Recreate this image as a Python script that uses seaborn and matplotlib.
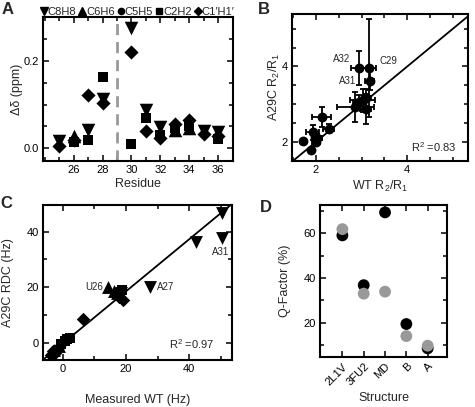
import numpy as np
import pandas as pd
import matplotlib
matplotlib.use('Agg')
import matplotlib.pyplot as plt
import seaborn as sns
from matplotlib.lines import Line2D
from matplotlib.ticker import MultipleLocator, FixedLocator

# Panel A: chemical shift differences per residue
c8h8_res = [25, 27, 28, 30, 31, 32, 35, 36]
c8h8_val = [0.016, 0.043, 0.114, 0.275, 0.087, 0.048, 0.040, 0.037]
c6h6_res = [26, 33, 34]
c6h6_val = [0.029, 0.043, 0.046]
c5h5_res = []
c5h5_val = []
c2h2_res = [26, 27, 28, 30, 31, 32, 33, 34, 36]
c2h2_val = [0.015, 0.019, 0.164, 0.009, 0.069, 0.030, 0.046, 0.052, 0.022]
c1h1_res = [25, 26, 27, 28, 30, 31, 32, 33, 34, 35, 36]
c1h1_val = [0.005, 0.020, 0.122, 0.103, 0.221, 0.039, 0.024, 0.055, 0.064, 0.033, 0.029]
a_ticks = [26, 28, 30, 32, 34, 36]

# Panel B: R2/R1 ratios with errors
b_wt = [2.94, 3.15, 3.18, 2.86, 3.02, 3.09, 2.95, 3.10, 2.12, 2.28, 1.93, 2.00, 2.03, 1.72, 1.89, 1.98]
b_a29c = [3.97, 3.95, 3.62, 2.93, 3.10, 2.88, 3.05, 3.15, 2.66, 2.35, 2.25, 2.00, 2.10, 2.03, 1.78, 2.12]
b_wt_err = [0.18, 0.17, 0.10, 0.40, 0.27, 0.12, 0.15, 0.10, 0.20, 0.12, 0.14, 0.08, 0.10, 0.0, 0.0, 0.05]
b_a29c_err = [0.45, 1.30, 0.25, 0.40, 0.30, 0.40, 0.20, 0.25, 0.26, 0.12, 0.20, 0.10, 0.10, 0.0, 0.0, 0.10]
b_r2 = 0.83

# Panel C: RDCs (Hz)
c_types = ['C8H8'] * 5 + ['C6H6'] * 5 + ['C2H2'] * 6 + ["C1'H1'"] * 8
c_wt = [50.4, 50.2, 42.0, 27.6, 18.3,
        14.4, 16.3, 17.3, -1.2, -2.6,
        18.6, 18.0, 2.3, 0.8, -0.5, 1.5,
        19.1, 17.8, 6.5, -2.4, -3.2, -1.5, 0.2, -3.8]
c_a29c = [46.6, 37.6, 36.2, 20.2, 18.0,
          20.0, 18.6, 17.8, -1.0, -2.5,
          19.0, 17.4, 1.6, 0.5, -0.6, 1.2,
          15.4, 16.5, 8.4, -3.8, -3.0, -2.0, 0.3, -4.5]
c_fit_slope = 0.94
c_fit_icpt = -0.3
c_r2 = 0.97

# Panel D: Q-factors
structures = ['2L1V', '3FU2', 'MD', 'B', 'A']
q_black = [59.1, 36.8, 69.4, 19.4, 8.5]
q_gray = [61.9, 33.0, 33.9, 14.0, 9.7]

sns.set_style('ticks')
plt.rcParams['font.family'] = ['Liberation Sans', 'DejaVu Sans']
plt.rcParams['mathtext.fontset'] = 'custom'
plt.rcParams['mathtext.rm'] = 'Liberation Sans'
plt.rcParams['mathtext.it'] = 'Liberation Sans:italic'
plt.rcParams['font.size'] = 8

W, H = 475, 407
fig = plt.figure(figsize=(W / 100, H / 100), dpi=100)
LAB = 9


def px_axes(l, t, r, b):
    return fig.add_axes([l / W, 1 - b / H, (r - l) / W, (b - t) / H])


def style(ax):
    for s in ax.spines.values():
        s.set_linewidth(1.5)
        s.set_color('black')
    ax.tick_params(which='both', direction='in', top=True, right=True,
                   width=1.1, labelsize=8, colors='black', pad=3)
    ax.tick_params(which='major', length=4)
    ax.tick_params(which='minor', length=3)


# ---- A
axA = px_axes(42.7, 17.3, 232.5, 161)
dfA = pd.concat([
    pd.DataFrame({'residue': c8h8_res, 'shift': c8h8_val, 'type': 'C8H8'}),
    pd.DataFrame({'residue': c6h6_res, 'shift': c6h6_val, 'type': 'C6H6'}),
    pd.DataFrame({'residue': c5h5_res, 'shift': c5h5_val, 'type': 'C5H5'}),
    pd.DataFrame({'residue': c2h2_res, 'shift': c2h2_val, 'type': 'C2H2'}),
    pd.DataFrame({'residue': c1h1_res, 'shift': c1h1_val, 'type': "C1'H1'"}),
], ignore_index=True)
mk = {'C8H8': 'v', 'C6H6': '^', 'C5H5': 'o', 'C2H2': 's', "C1'H1'": 'D'}
sizes = {'C8H8': 95, 'C6H6': 95, 'C5H5': 60, 'C2H2': 58, "C1'H1'": 52}
for t in ['C2H2', 'C8H8', 'C6H6', "C1'H1'"]:
    sub = dfA[dfA['type'] == t]
    sns.scatterplot(data=sub, x='residue', y='shift', marker=mk[t], s=sizes[t],
                    color='black', edgecolor='black', linewidth=0, ax=axA, legend=False)
axA.axvline(29, color='#999999', lw=2, ls=(0, (4, 2.5)))
axA.set_xlim(23.85, 37.0)
axA.set_ylim(-0.029, 0.30)
axA.xaxis.set_major_locator(FixedLocator(a_ticks))
axA.xaxis.set_minor_locator(MultipleLocator(1))
axA.yaxis.set_major_locator(MultipleLocator(0.2))
axA.yaxis.set_minor_locator(MultipleLocator(0.05))
axA.yaxis.set_major_formatter(matplotlib.ticker.FormatStrFormatter('%.1f'))
axA.set_xlabel('Residue', fontsize=LAB, labelpad=2)
axA.set_ylabel('Δδ (ppm)', fontsize=LAB, labelpad=0)
style(axA)
leg_names = ['C8H8', 'C6H6', 'C5H5', 'C2H2', "C1'H1'"]
leg_labels = ['C8H8', 'C6H6', 'C5H5', 'C2H2', 'C1\u2032H1\u2032']
handles = [Line2D([], [], marker=mk[n], color='black', ls='none', markersize=5.5 if mk[n] in 'v^' else 4.5)
           for n in leg_names]
axA.legend(handles, leg_labels, ncol=5, loc='lower center', bbox_to_anchor=(0.5, 1.0),
           frameon=False, handlelength=0.55, handletextpad=0.05, columnspacing=0.3,
           borderaxespad=0, borderpad=0, fontsize=8)

# ---- B
axB = px_axes(292.3, 14, 468, 160.7)
axB.errorbar(b_wt, b_a29c, xerr=b_wt_err, yerr=b_a29c_err, fmt='none',
             ecolor='black', elinewidth=1.3, capsize=2.5, capthick=1.3)
sns.scatterplot(x=b_wt, y=b_a29c, color='black', s=50, linewidth=0, ax=axB, zorder=3)
axB.axline((2, 2), slope=1, color='black', lw=1.3)
axB.set_xlim(1.48, 5.33)
axB.set_ylim(1.5, 5.39)
axB.xaxis.set_major_locator(MultipleLocator(2))
axB.xaxis.set_minor_locator(MultipleLocator(0.5))
axB.yaxis.set_major_locator(MultipleLocator(2))
axB.yaxis.set_minor_locator(MultipleLocator(0.5))
axB.set_xlabel('WT R$_2$/R$_1$', fontsize=LAB, labelpad=3)
axB.set_ylabel('A29C R$_2$/R$_1$', fontsize=LAB, labelpad=0)
axB.text(2.74, 4.21, 'A32', fontsize=7, ha='right', va='center')
axB.text(3.38, 4.15, 'C29', fontsize=7, ha='left', va='center')
axB.text(2.87, 3.61, 'A31', fontsize=7, ha='right', va='center')
axB.text(5.08, 1.87, 'R$^2$ =%.2f' % b_r2, fontsize=8, ha='right', va='center')
style(axB)

# ---- C
axC = px_axes(42.7, 205, 231.7, 360)
dfC = pd.DataFrame({'wt': c_wt, 'a29c': c_a29c, 'type': c_types})
for t in ['C2H2', "C1'H1'", 'C6H6', 'C8H8']:
    sub = dfC[dfC['type'] == t]
    sns.scatterplot(data=sub, x='wt', y='a29c', marker=mk[t], s=sizes[t] * 0.9,
                    color='black', linewidth=0, ax=axC, legend=False)
axC.axline((0, c_fit_icpt), slope=c_fit_slope, color='black', lw=1.3)
axC.set_xlim(-6.3, 53.4)
axC.set_ylim(-6.2, 49.6)
axC.xaxis.set_major_locator(MultipleLocator(20))
axC.xaxis.set_minor_locator(MultipleLocator(10))
axC.yaxis.set_major_locator(MultipleLocator(20))
axC.yaxis.set_minor_locator(MultipleLocator(10))
axC.set_xlabel('Measured WT (Hz)', fontsize=LAB, labelpad=14)
axC.set_ylabel('A29C RDC (Hz)', fontsize=LAB, labelpad=9)
axC.text(12.9, 20.0, 'U26', fontsize=7, ha='right', va='center')
axC.text(29.9, 20.2, 'A27', fontsize=7, ha='left', va='center')
axC.text(50.0, 32.8, 'A31', fontsize=7, ha='center', va='center')
axC.text(48.1, -0.6, 'R$^2$ =%.2f' % c_r2, fontsize=8, ha='right', va='center')
style(axC)

# ---- D
axD = px_axes(320, 205, 447.3, 357.3)
dfD = pd.DataFrame({
    'structure': structures * 2,
    'q': q_black + q_gray,
    'set': ['black'] * len(structures) + ['gray'] * len(structures),
})
sns.stripplot(data=dfD, x='structure', y='q', hue='set', order=structures,
              palette={'black': 'black', 'gray': '#999999'}, jitter=False,
              size=8.5, linewidth=0, legend=False, ax=axD)
axD.set_xlim(-1.05, 4.92)
axD.set_ylim(4.5, 72.7)
axD.yaxis.set_major_locator(MultipleLocator(20))
axD.yaxis.set_minor_locator(MultipleLocator(10))
axD.set_xlabel('Structure', fontsize=LAB, labelpad=3)
axD.set_ylabel('Q-Factor (%)', fontsize=LAB, labelpad=9)
style(axD)
plt.setp(axD.get_xticklabels(), rotation=45, ha='right', rotation_mode='anchor')

for lab, x, y in [('A', 2, 2), ('B', 258, 2), ('C', 0, 196), ('D', 260, 200)]:
    fig.text(x / W, 1 - y / H, lab, fontsize=12, fontweight='bold', ha='left', va='top')

fig.savefig('out.png', dpi=100)
